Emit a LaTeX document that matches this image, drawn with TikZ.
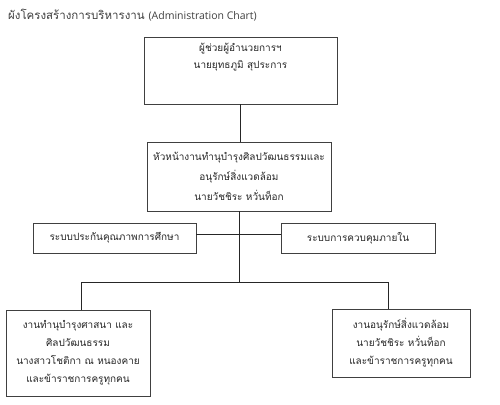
\documentclass[tikz,border=0pt]{standalone}
\usepackage{fontspec}
\newfontfamily\thaifont[Script=Thai]{Loma}
\newfontfamily\latinfont{Open Sans}
\usetikzlibrary{positioning,calc}

\begin{document}
\begin{tikzpicture}[x=1pt,y=-1pt]
\tikzset{
  unitbox/.style={rectangle, draw=black!75, line width=0.8pt, align=center,
    font=\thaifont\fontsize{10}{18}\selectfont, text=black!85, inner sep=2pt},
  link/.style={line width=0.8pt, draw=black!85},
  titletext/.style={anchor=west, inner sep=0pt, text=black!75}
}
\useasboundingbox (0,0) rectangle (500,404);

% title
\node[titletext] (title) at (8,15)
  {\thaifont\fontsize{11.5}{14}\selectfont ผังโครงสร้างการบริหารงาน \latinfont\fontsize{10.5}{14}\selectfont(Administration Chart)};

% boxes
\node[unitbox, minimum width=193, minimum height=67, text depth=30pt,
  font=\thaifont\fontsize{10}{17}\selectfont] (asst) at (240.5,70.5)
  {ผู้ช่วยผู้อำนวยการฯ\\นายยุทธภูมิ สุประการ};
\node[unitbox, minimum width=184, minimum height=69,
  font=\thaifont\fontsize{10}{20}\selectfont] (head) at (239,176.5)
  {หัวหน้างานทำนุบำรุงศิลปวัฒนธรรมและ\\อนุรักษ์สิ่งแวดล้อม\\นายวัชชิระ หวั่นท็อก};
\node[unitbox, minimum width=163, minimum height=30] (qa) at (114.5,238)
  {ระบบประกันคุณภาพการศึกษา};
\node[unitbox, minimum width=154, minimum height=30] (ctrl) at (358,238)
  {ระบบการควบคุมภายใน};
\node[unitbox, minimum width=144, minimum height=86] (artwork) at (78,353)
  {งานทำนุบำรุงศาสนา และ\\ศิลปวัฒนธรรม\\นางสาวโชติกา ณ หนองคาย\\และข้าราชการครูทุกคน};
\node[unitbox, minimum width=138, minimum height=68] (envwork) at (401,343)
  {งานอนุรักษ์สิ่งแวดล้อม\\นายวัชชิระ หวั่นท็อก\\และข้าราชการครูทุกคน};

% connectors
\coordinate (lfork) at (81,282);
\coordinate (rfork) at (388,282);
\draw[link] (asst.south) -- (asst.south |- head.north);
\draw[link] (head.south) -- (head.south |- lfork);
\draw[link] ([yshift=4pt]qa.east) -- ([yshift=4pt]qa.east -| ctrl.west);
\draw[link] (lfork) -- (rfork);
\draw[link] (lfork) -- (lfork |- artwork.north);
\draw[link] (rfork) -- (rfork |- envwork.north);
\end{tikzpicture}
\end{document}
